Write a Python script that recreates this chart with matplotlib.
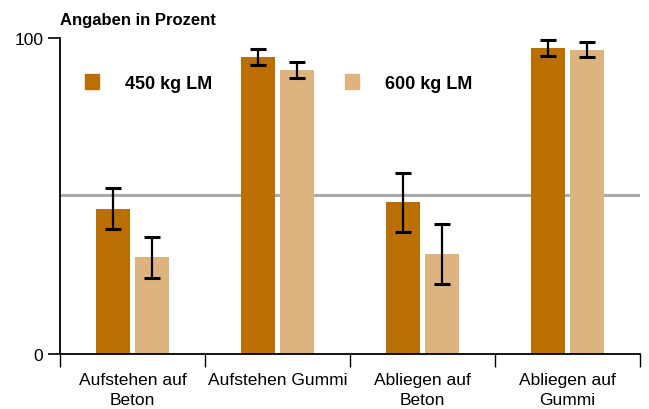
import matplotlib.pyplot as plt
import numpy as np
from matplotlib.patches import Patch

plt.rcParams["font.family"] = ["Liberation Sans", "DejaVu Sans"]

categories = ["Aufstehen auf\nBeton", "Aufstehen Gummi", "Abliegen auf\nBeton", "Abliegen auf\nGummi"]
series_names = ["450 kg LM", "600 kg LM"]
values_450 = [46.0, 94.0, 48.0, 96.9]
err_450 = [6.6, 2.6, 9.4, 2.5]
values_600 = [30.6, 89.9, 31.7, 96.3]
err_600 = [6.5, 2.6, 9.5, 2.4]
reference_line = 50.2

dark = "#BA6F00"
light = "#DEB47E"

fig = plt.figure(figsize=(6.49, 4.10), dpi=100)
ax = fig.add_axes([60 / 649, 1 - 355 / 410, 580 / 649, 316 / 410])

x = np.arange(len(categories))
width = 0.234
offset = 0.134
err_kw = {"ecolor": "black", "elinewidth": 1.6, "capsize": 6, "capthick": 2.2}
ax.bar(x - offset, values_450, width, color=dark, yerr=err_450, error_kw=err_kw, zorder=2)
ax.bar(x + offset, values_600, width, color=light, yerr=err_600, error_kw=err_kw, zorder=2)
ax.axhline(reference_line, color="#AAAAAA", lw=2.2, zorder=1)

ax.set_xlim(-0.5, 3.5)
ax.set_ylim(0, 100)
ax.set_yticks([0, 100])
ax.tick_params(axis="y", length=9, width=1.2, labelsize=12.5, pad=3)
ax.set_xticks(x)
ax.set_xticklabels(categories, fontsize=12.5, linespacing=1.4)
ax.set_xticks(np.arange(-0.5, 4.0, 1.0), minor=True)
ax.tick_params(axis="x", which="major", length=0, pad=13)
ax.tick_params(axis="x", which="minor", length=9.5, width=1.0)
for side in ["top", "right"]:
    ax.spines[side].set_visible(False)
for side in ["left", "bottom"]:
    ax.spines[side].set_linewidth(1.3)

handles = [Patch(color=dark), Patch(color=light)]
ax.legend(handles, series_names, ncol=2, frameon=False, loc="center left",
          bbox_to_anchor=(25 / 580, (355 - 84) / 316), borderaxespad=0, borderpad=0,
          handlelength=0.78, handleheight=0.85, handletextpad=1.44, columnspacing=7.37,
          prop={"weight": "bold", "size": 13})

fig.text(60 / 649, 1 - 20 / 410, "Angaben in Prozent", fontsize=12, fontweight="bold",
         ha="left", va="center")

fig.savefig("out.png", dpi=100)
